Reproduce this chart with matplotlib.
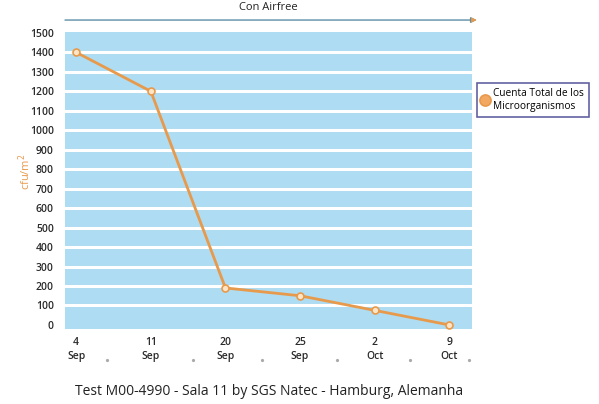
import matplotlib
matplotlib.use('Agg')
import matplotlib.pyplot as plt

plt.rcParams['font.family'] = ['Open Sans', 'DejaVu Sans']

dates = ['4\nSep', '11\nSep', '20\nSep', '25\nSep', '2\nOct', '9\nOct']
cfu = [1400, 1200, 190, 150, 75, 0]
y_ticks = list(range(0, 1600, 100))

orange = '#E89A4C'
blue = '#AEDCF2'

fig = plt.figure(figsize=(5.99, 4.04), dpi=100)
ax = fig.add_axes([0.1085, 0.186, 0.679, 0.735])
ax.set_facecolor(blue)

x = list(range(len(cfu)))
ax.plot(x, cfu, color=orange, linewidth=2, marker='o', markersize=5,
        markerfacecolor='#FDE6C8', markeredgecolor=orange, markeredgewidth=1.2,
        label='Cuenta Total de los\nMicroorganismos', zorder=3)

ax.set_xlim(-0.15, 5.3)
ax.set_ylim(-20, 1505)
ax.set_yticks(y_ticks)
ax.set_yticklabels([str(v) for v in y_ticks], fontsize=7.5, color='#2a2a2a',
                   fontweight='semibold')
ax.set_xticks(x)
ax.set_xticklabels(dates, fontsize=7.5, color='#2a2a2a', linespacing=1.3,
                   fontweight='semibold')
ax.tick_params(length=0, pad=6)
ax.tick_params(axis='y', pad=8)

# white horizontal stripes
for v in y_ticks[1:-1]:
    ax.axhline(v, color='white', linewidth=2.2, zorder=1)

for s in ax.spines.values():
    s.set_visible(False)

# small dots between the date labels
dot_x = [0.41, 1.56, 2.49, 3.49, 4.47, 5.27]
ax.plot(dot_x, [-0.105] * len(dot_x), linestyle='none', marker='o',
        markersize=1.3, color='#aaaaaa', transform=ax.get_xaxis_transform(),
        clip_on=False)

ax.set_ylabel('cfu/m$^2$', color=orange, fontsize=8)
ax.yaxis.set_label_coords(-0.079, 0.53)

# top arrow with label
ax.annotate('', xy=(1.012, 1.04), xytext=(0.0, 1.04), xycoords='axes fraction',
            arrowprops=dict(arrowstyle='-|>', color='#5E8FA8', lw=1,
                            mutation_scale=8, shrinkA=0, shrinkB=0))
ax.annotate('', xy=(1.012, 1.04), xytext=(1.0, 1.04), xycoords='axes fraction',
            arrowprops=dict(arrowstyle='-|>', color=orange, lw=0.5,
                            mutation_scale=8, shrinkA=0, shrinkB=0))
ax.text(0.5, 1.065, 'Con Airfree', transform=ax.transAxes, ha='center',
        va='bottom', fontsize=8, color='#222222')

leg = ax.legend(loc='upper left', bbox_to_anchor=(1.012, 0.828), fontsize=7.3,
                frameon=True, fancybox=False, borderpad=0.5, handlelength=0.6,
                handletextpad=0.5, markerscale=1.6, borderaxespad=0)
leg.get_frame().set_edgecolor('#3B3B8C')
leg.get_frame().set_linewidth(1.2)
for h in leg.legend_handles:
    h.set_linestyle('none')
    h.set_markerfacecolor('#F2A860')

fig.text(0.45, 0.03, 'Test M00-4990 - Sala 11 by SGS Natec - Hamburg, Alemanha',
         ha='center', va='center', fontsize=10, color='#222222')

plt.savefig('out.png', dpi=100)
